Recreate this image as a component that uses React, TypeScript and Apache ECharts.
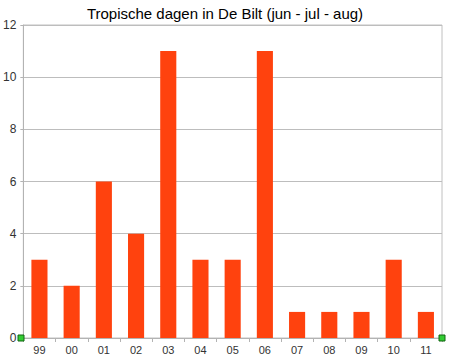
import React, { useEffect, useRef } from "react";
import * as echarts from "echarts";

const titleText = "Tropische dagen in De Bilt (jun - jul - aug)";
const years = ["99", "00", "01", "02", "03", "04", "05", "06", "07", "08", "09", "10", "11"];
const tropicalDays = [3, 2, 6, 4, 11, 3, 3, 11, 1, 1, 1, 3, 1];
const yMin = 0;
const yMax = 12;
const yStep = 2;

const GRID = { left: 21, right: 8, top: 25, bottom: 26 };

export default function App() {
  const ref = useRef<HTMLDivElement>(null);
  useEffect(() => {
    if (!ref.current) return;
    const chart = echarts.init(ref.current, undefined, { renderer: "svg" });
    const W = 450;
    const H = 364;
    const handle = (cx: number, cy: number) => ({
      type: "rect",
      shape: { x: cx - 3, y: cy - 3, width: 6, height: 6 },
      style: { fill: "#33cc33", stroke: "#116611", lineWidth: 1 },
      z: 100,
    });
    chart.setOption({
      animation: false,
      backgroundColor: "#ffffff",
      textStyle: { fontFamily: "Liberation Sans, Arial, sans-serif" },
      title: {
        text: titleText,
        left: "center",
        top: 1,
        textStyle: {
          fontFamily: "Liberation Sans, Arial, sans-serif",
          fontSize: 15,
          fontWeight: "normal",
          color: "#000000",
        },
      },
      grid: {
        left: GRID.left,
        right: GRID.right,
        top: GRID.top,
        bottom: GRID.bottom,
        containLabel: false,
        show: true,
        borderColor: "#c0c0c0",
        borderWidth: 1,
      },
      xAxis: {
        type: "category",
        data: years,
        axisLine: { show: true, lineStyle: { color: "#b3b3b3" } },
        axisTick: { show: true, length: 4, lineStyle: { color: "#b3b3b3" } },
        axisLabel: { color: "#333333", fontSize: 11, margin: 6 },
      },
      yAxis: {
        type: "value",
        min: yMin,
        max: yMax,
        interval: yStep,
        axisLine: { show: true, lineStyle: { color: "#b3b3b3" } },
        axisTick: { show: true, length: 3, lineStyle: { color: "#b3b3b3" } },
        axisLabel: { color: "#333333", fontSize: 12, margin: 7 },
        splitLine: { show: true, lineStyle: { color: "#bdbdbd" } },
      },
      series: [
        {
          type: "bar",
          data: tropicalDays,
          barWidth: "50%",
          itemStyle: { color: "#ff420e" },
        },
      ],
      graphic: [
        handle(GRID.left, H - GRID.bottom),
        handle(W - GRID.right, H - GRID.bottom),
      ],
    });
    return () => chart.dispose();
  }, []);
  return <div ref={ref} style={{ width: 450, height: 364, position: "absolute", left: 0, top: 0 }} />;
}
